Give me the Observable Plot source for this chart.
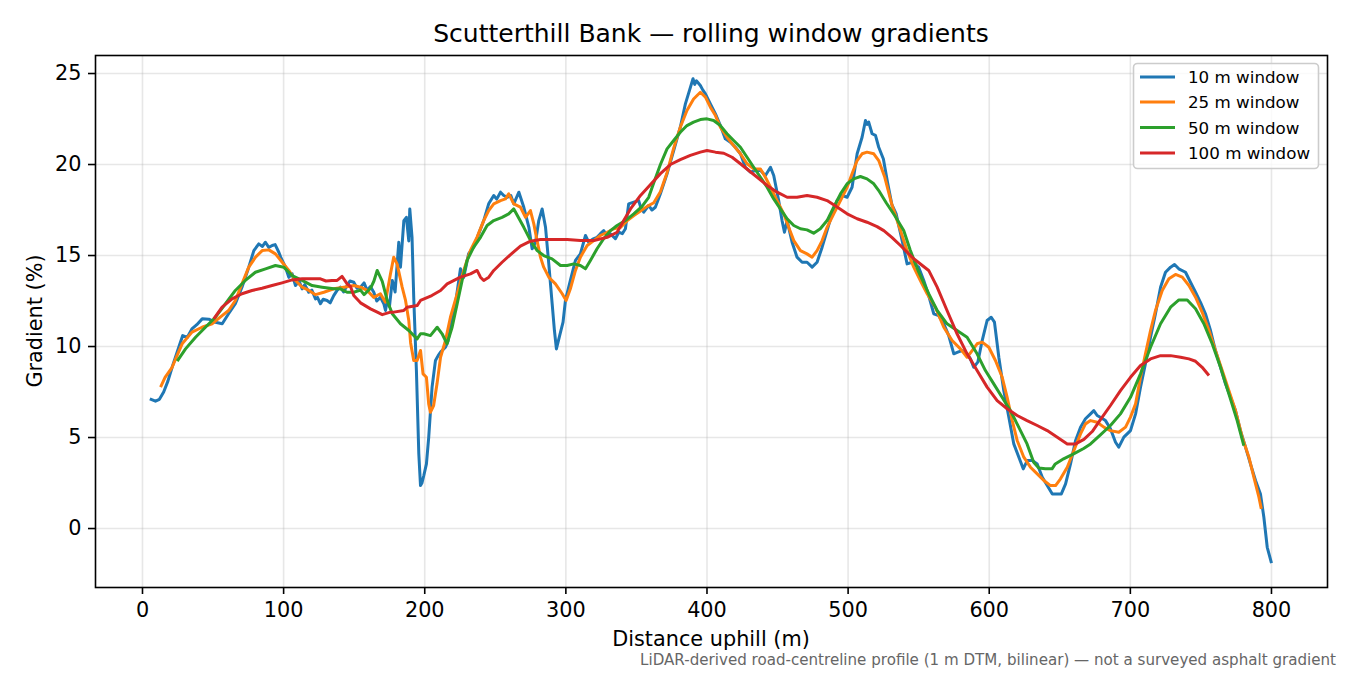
<!DOCTYPE html>
<html>
<head>
<meta charset="utf-8">
<script src="https://cdn.jsdelivr.net/npm/d3@7"></script>
<script src="https://cdn.jsdelivr.net/npm/@observablehq/plot@0.6"></script>
<style>
  html, body { margin: 0; padding: 0; background: #fff; }
  #chart svg { display: block; }
</style>
</head>
<body>
<div id="chart"></div>
<script>
// ---- data: [distance uphill (m), gradient (%)] ----
const win10 = [
  [5.2,7.13],[9.2,7.0],[12,7.1],[15,7.5],[18,8.1],[21,8.86],[25.7,9.96],[28.5,10.6],[31.7,10.5],[35,10.97],
  [38.5,11.2],[42.3,11.52],[47,11.5],[51.7,11.33],[56.5,11.25],[61,11.8],[65.8,12.35],[70.5,13.26],[75.3,14.36],
  [78.9,15.27],[82.4,15.64],[85,15.5],[87.1,15.73],[89.5,15.45],[91.9,15.55],[94,15.6],[96.6,15.18],[98,14.9],
  [101.3,14.36],[103.7,13.8],[106,14.0],[108.4,13.35],[111,13.6],[113.1,13.17],[115,13.4],[117.8,12.98],
  [120,13.1],[122.6,12.62],[124,12.7],[126.1,12.35],[128,12.6],[130.8,12.53],[133,12.4],[135.5,12.8],[138,13.1],
  [140.3,13.26],[142.5,13.0],[145,13.35],[147,13.6],[149.7,13.53],[152,13.2],[154.5,13.26],[157,13.5],
  [159.2,13.08],[161.5,13.3],[163.9,12.98],[166,12.5],[168.6,12.7],[171,12.35],[172.2,11.98],[173.4,12.53],
  [175,12.2],[177,13.63],[179,13.0],[181.6,15.73],[182.8,14.36],[185.2,16.92],[187,17.1],[188.7,15.8],
  [189.4,17.56],[191,16.0],[192.2,12.7],[194.1,8.68],[195.8,4.1],[197,2.36],[198,2.5],[199.3,2.9],[201.2,3.55],
  [202.8,5.0],[205.2,7.77],[207.6,9.23],[209.5,9.5],[211.2,9.69],[214.7,9.96],[216.5,10.3],[218.2,11.06],
  [220,11.6],[221.8,12.35],[223.5,13.3],[225.3,14.27],[227.6,13.8],[229.5,14.5],[231.1,15.1],[234.7,15.46],
  [238.2,16.19],[241.8,16.92],[245.3,17.84],[248.9,18.3],[251,18.1],[253.7,18.48],[256,18.3],[258.4,18.2],
  [261,18.3],[263.1,17.84],[266.7,18.48],[270.2,17.65],[273.8,16.55],[276.1,15.37],[278.5,15.73],[280.8,16.92],
  [283.2,17.56],[285.6,16.55],[287.9,14.54],[290.3,12.35],[291.9,10.88],[293.3,9.87],[295.6,10.6],[298,11.34],
  [299.7,12.53],[303.2,13.63],[306.8,14.73],[310.3,15.09],[313.9,16.1],[316.2,15.73],[319,15.9],[322.1,16.0],
  [324.5,16.2],[326.8,16.37],[329,16.1],[331.6,16.19],[335.1,15.92],[337.5,16.28],[340,16.2],[342.2,16.47],
  [344.5,17.84],[348.1,17.93],[351.6,18.02],[353,17.66],[355.2,17.38],[358.7,17.75],[361,17.5],[363.4,17.65],
  [367,18.39],[371.7,19.49],[376.4,20.77],[381.1,22.05],[384.7,23.33],[388.3,24.25],[390.1,24.71],[391.3,24.4],
  [392.5,24.6],[395.3,24.34],[397,24.1],[398.9,23.88],[402.4,23.33],[406,22.78],[409.5,22.14],[413,21.41],
  [416.6,21.23],[420.1,20.95],[423.7,20.59],[427.2,19.85],[430.8,19.58],[434.3,19.67],[437.9,19.67],
  [441.4,19.4],[445,19.85],[447.3,19.4],[450.8,18.02],[453.2,16.92],[454.9,16.28],[456.8,16.92],[460.3,15.73],
  [463.8,14.91],[467.4,14.63],[470.9,14.63],[474.5,14.36],[478,14.63],[481.6,15.46],[485.1,16.37],[488.6,17.29],
  [492.2,18.02],[495.7,18.3],[499.3,18.2],[502.8,18.75],[506.4,20.59],[509.9,21.5],[512.3,22.42],[513.5,22.2],
  [514.6,22.33],[517,21.69],[519.4,21.6],[521.7,20.95],[525,20.3],[528,19.0],[531,17.8],[534,17.3],
  [538.3,15.82],[541.8,14.54],[545.4,14.63],[550,14.36],[553.6,13.63],[557.1,12.8],[560.7,11.8],[564.2,11.7],
  [567.8,11.25],[571.3,10.6],[574.9,9.6],[577.7,9.69],[580.8,9.78],[584.3,9.6],[586.7,9.32],[589,8.86],
  [591.9,9.14],[595,10.33],[598.5,11.43],[601.4,11.61],[603.7,11.34],[606.8,9.41],[610.3,7.58],[613.9,6.12],
  [617.4,4.65],[621,3.92],[624.1,3.28],[627,3.74],[630.5,3.74],[634,3.55],[637.6,2.82],[641.1,2.36],
  [644.7,1.9],[648.2,1.9],[651.1,1.9],[654.1,2.45],[657.6,3.55],[661.2,4.84],[664.7,5.57],[668.2,6.03],
  [671.8,6.3],[674.1,6.48],[676.5,6.21],[679,6.1],[682.4,5.93],[685.9,5.48],[689.5,4.74],[691.8,4.47],
  [695.4,5.02],[700.1,5.38],[703.7,6.3],[707.2,7.76],[710.7,9.05],[714.3,10.51],[717.8,11.8],[721.4,13.26],
  [724.9,14.08],[728.5,14.36],[731.3,14.51],[734.3,14.27],[739.1,14.08],[742.6,13.53],[746.2,12.98],
  [749.7,12.43],[753.2,11.8],[756.8,10.88],[760.3,9.78],[763.9,8.86],[767.4,7.95],[771,7.21],[774.5,6.48],
  [778,5.38],[781.6,4.47],[785.1,3.55],[788.7,2.64],[792.2,1.9],[794.6,0.62],[797,-1.03],[800,-1.9]
];
const win25 = [
  [12.8,7.77],[16,8.3],[21,8.86],[25,9.6],[28.1,10.15],[35.1,10.79],[42.2,11.06],[49.3,11.25],[56.4,11.7],
  [61,11.98],[65.8,12.53],[70.5,13.45],[75.3,14.36],[80.1,14.91],[84.8,15.27],[89.5,15.31],[94.2,15.09],
  [99,14.63],[103.7,14.18],[108.4,13.63],[113.2,13.26],[117.9,13.08],[122.6,12.85],[128.5,12.98],[135.5,13.17],
  [142.6,13.26],[149.7,13.35],[154.5,13.26],[159.2,13.08],[163.9,12.7],[168.6,12.9],[172.1,12.43],[175.7,13.99],
  [178,14.91],[180.4,14.54],[184,13.26],[186.4,12.53],[188.7,11.43],[190,10.2],[192.2,9.23],[194.6,9.23],
  [197,9.78],[198.8,8.5],[201.2,8.31],[202.8,6.85],[204,6.39],[206.3,6.76],[208.7,7.95],[211.2,9.41],
  [214.7,10.33],[218.2,11.61],[223,12.9],[227.6,14.18],[232.3,15.27],[237,16.0],[241.8,16.92],[245.3,17.47],
  [248.9,17.84],[253.7,18.02],[257.2,18.11],[259.5,18.39],[263.1,17.84],[267.8,17.66],[271.4,17.1],[274.9,17.47],
  [277.3,16.74],[279.6,15.82],[282,14.91],[284.3,14.36],[287.9,13.81],[292.6,13.44],[297.4,12.9],[300.2,12.53],
  [303.2,13.17],[306.8,14.18],[310.3,14.91],[315.1,15.55],[319.8,15.82],[324.5,16.1],[329.3,16.28],[334,16.47],
  [338.7,16.55],[343.5,16.92],[348.2,17.2],[352.9,17.45],[357.6,17.7],[362.3,17.9],[367,18.5],[371.7,19.55],
  [376.4,20.9],[381.1,22.05],[385.8,22.97],[390.5,23.6],[395.3,23.97],[398.9,23.7],[402.4,23.15],[406,22.69],
  [409.5,22.05],[414.2,21.5],[418.9,21.04],[423.7,20.59],[428.4,20.04],[433.1,19.76],[437.9,19.76],[441.4,19.3],
  [445,18.75],[449.7,18.02],[454.4,17.29],[457.9,16.55],[461.5,15.82],[466.2,15.27],[470.9,15.09],[474.5,14.91],
  [478,15.27],[481.6,15.82],[485.1,16.55],[489.8,17.29],[494.6,18.02],[499.3,18.75],[502.8,19.49],[506.4,20.22],
  [509.9,20.59],[513.4,20.68],[518.2,20.59],[521.7,20.22],[526,19.3],[531,17.8],[537.1,16.37],[541.8,15.27],
  [546.5,14.36],[551.2,13.63],[556,12.9],[561.8,12.16],[567.8,11.06],[573.7,10.33],[579.6,9.87],[584.3,9.41],
  [587.9,9.78],[591.4,10.15],[595,10.24],[599.7,9.96],[604.4,9.23],[609.2,8.31],[612.7,7.21],[616.3,5.93],
  [619.8,4.84],[624.5,3.92],[629.2,3.37],[634,3.0],[638.7,2.64],[643.4,2.36],[647,2.36],[650.5,2.73],
  [655.3,3.37],[660,4.29],[664.7,5.2],[668.2,5.75],[671.8,5.93],[676.5,5.84],[681.2,5.57],[685.9,5.38],
  [691.8,5.29],[696.6,5.57],[700.1,6.12],[703.7,6.85],[707.2,8.31],[710.7,9.6],[714.3,10.88],[717.8,11.98],
  [722.6,13.08],[727.3,13.72],[732,13.96],[736.8,13.81],[741.5,13.35],[746.2,12.71],[750.9,11.88],[755.7,10.88],
  [760.3,9.78],[765.1,8.68],[769.8,7.58],[774.5,6.48],[779.3,5.02],[784,3.92],[787.5,2.82],[791.1,1.72],[792.8,1.08]
];
const win50 = [
  [24.6,9.2],[30.5,9.87],[37.6,10.51],[44.6,11.06],[51.7,11.61],[58.8,12.35],[65.8,13.08],[72.9,13.63],
  [80,14.08],[87.2,14.27],[94.2,14.45],[100.1,14.36],[106,13.9],[113.1,13.63],[120.2,13.35],[127.3,13.26],
  [135.5,13.17],[140.3,13.17],[145,12.98],[149.7,12.98],[154.5,13.1],[157,12.85],[161.6,13.2],[164,13.6],
  [166.3,14.18],[169.9,13.58],[173.4,12.53],[177,11.8],[182.8,11.25],[188.7,10.88],[194.6,10.42],[197,10.7],
  [199.3,10.7],[204,10.6],[208.8,11.06],[212.3,10.7],[215.8,10.15],[219.4,11.06],[223,12.35],[226.5,13.63],
  [230,14.73],[234.7,15.46],[239.5,16.0],[244.2,16.65],[248.9,16.92],[254.8,17.1],[259.5,17.29],[263.1,17.56],
  [266.7,17.05],[270.2,16.55],[275,15.82],[279.7,15.27],[284.3,15.0],[290.2,14.82],[296.2,14.45],[300.9,14.45],
  [305.6,14.54],[310.3,14.45],[313.9,14.27],[317.4,14.73],[322.1,15.37],[326.8,15.92],[331.6,16.37],
  [336.3,16.65],[342.2,16.92],[348.1,17.29],[354,17.7],[358.7,18.2],[362.3,19.0],[367,20.0],[371.7,20.86],
  [376.4,21.32],[381.1,21.77],[385.8,22.14],[390.5,22.33],[395.3,22.47],[400,22.51],[404.7,22.42],[409.5,22.14],
  [414.2,21.69],[418.9,21.32],[423.7,20.95],[428.4,20.4],[433.1,19.85],[437.9,19.3],[442.6,18.75],[447.3,18.11],
  [452,17.56],[456.8,17.01],[461.5,16.65],[466.2,16.47],[470.9,16.41],[475.6,16.23],[480.3,16.47],[485.1,16.92],
  [489.8,17.66],[494.6,18.39],[499.3,18.94],[504,19.21],[508.7,19.34],[513.4,19.21],[518.2,18.94],[521.7,18.57],
  [527,17.9],[533,17.2],[539.4,16.37],[544,15.3],[550,14.1],[557.1,12.9],[563.1,11.98],[570.1,11.25],
  [577.2,10.88],[584.3,10.51],[591.4,9.6],[597.3,8.68],[603.2,7.95],[609.1,7.21],[615,6.48],[620.9,5.57],
  [626.8,4.65],[631.5,3.64],[635.1,3.33],[639.8,3.28],[644.5,3.28],[646.8,3.55],[652.7,3.83],[659.8,4.1],
  [666.9,4.4],[671.8,4.65],[678.8,5.15],[685.9,5.66],[693,6.3],[700.1,7.21],[707.2,8.5],[714.3,9.96],
  [721.4,11.25],[728.5,12.16],[734.4,12.56],[740.3,12.56],[746.2,12.07],[752.1,11.25],[758,10.15],[763.9,8.86],
  [769.8,7.4],[775.7,5.93],[780.4,4.56]
];
const win100 = [
  [50.5,11.52],[56.4,12.16],[63.5,12.62],[70.5,12.9],[77.6,13.08],[84.7,13.2],[91.8,13.35],[98.9,13.5],
  [106,13.66],[113.1,13.72],[120.2,13.72],[126.1,13.72],[130,13.6],[134.3,13.63],[137.9,13.63],[141.4,13.85],
  [145,13.44],[147.4,13.3],[149.7,12.8],[154.5,12.4],[161.6,12.07],[166,11.9],[169.9,11.75],[175.7,11.89],
  [178.1,11.89],[185.1,11.98],[187.5,12.16],[194.6,12.25],[197,12.53],[205,12.8],[211.2,13.08],[215.9,13.44],
  [225.3,13.81],[232.4,13.99],[237.1,14.18],[239.5,13.81],[241.8,13.63],[245.4,13.81],[248.9,14.18],
  [254.8,14.63],[260.8,15.05],[267.8,15.52],[274.9,15.79],[282,15.88],[291.4,15.88],[300.9,15.88],[310.3,15.82],
  [319.8,15.82],[329.3,16.0],[336.3,16.28],[341,16.92],[345.8,17.56],[352.9,18.3],[360,18.9],[367,19.5],
  [374.1,20.0],[381.1,20.27],[388.2,20.5],[395.3,20.68],[400,20.77],[406,20.68],[411.9,20.62],[417.8,20.4],
  [423.7,20.04],[429.6,19.67],[435.6,19.3],[442.6,18.85],[449.7,18.48],[456.8,18.2],[463.8,18.2],[470.9,18.3],
  [478,18.2],[485.1,18.02],[492.2,17.66],[499.3,17.29],[506.4,17.02],[513.4,16.83],[520.5,16.59],[525.3,16.37],
  [531,16.0],[537.1,15.55],[546.5,14.82],[557.1,14.18],[563.1,13.26],[570.1,11.98],[577.2,10.7],[584.3,9.6],
  [591.4,8.68],[598.5,7.77],[605.6,7.03],[612.7,6.58],[619.8,6.21],[626.8,5.93],[634,5.66],[641.1,5.38],
  [648.2,5.02],[655.3,4.65],[661.2,4.65],[667.1,4.9],[673,5.33],[678.8,5.98],[685.9,6.76],[693,7.58],
  [700.1,8.31],[707.2,8.96],[714.3,9.32],[721.4,9.5],[728.5,9.5],[735.6,9.41],[741.5,9.32],[746.2,9.19],
  [750.9,8.86],[755.7,8.41]
];
const seriesNames = ["10 m window", "25 m window", "50 m window", "100 m window"];
const seriesColors = ["#1f77b4", "#ff7f0e", "#2ca02c", "#d62728"];
const xTicks = [0, 100, 200, 300, 400, 500, 600, 700, 800];
const yTicks = [0, 5, 10, 15, 20, 25];
const titleText = "Scutterthill Bank \u2014 rolling window gradients";
const xLabel = "Distance uphill (m)";
const yLabel = "Gradient (%)";
const captionText = "LiDAR-derived road-centreline profile (1 m DTM, bilinear) \u2014 not a surveyed asphalt gradient";

// ---- build ----
const allSeries = [win10, win25, win50, win100];
const rows = allSeries.flatMap((s, i) => s.map(([d, g]) => ({d, g, series: seriesNames[i]})));

const W = 1350, H = 675;
const mL = 95, mR = 23, mT = 55, mB = 88;
const FONT = "DejaVu Sans, Liberation Sans, sans-serif";

const plot = Plot.plot({
  width: W, height: H,
  marginLeft: mL, marginRight: mR, marginTop: mT, marginBottom: mB,
  style: {fontFamily: FONT, fontSize: "20.8px", color: "#000", background: "#fff"},
  x: {domain: [-33.3, 839.7], label: null},
  y: {domain: [-3.24, 25.99], label: null},
  color: {domain: seriesNames, range: seriesColors},
  marks: [
    Plot.gridX(xTicks, {stroke: "#b0b0b0", strokeOpacity: 0.3, strokeWidth: 1.6}),
    Plot.gridY(yTicks, {stroke: "#b0b0b0", strokeOpacity: 0.3, strokeWidth: 1.6}),
    Plot.line(rows, {x: "d", y: "g", z: "series", stroke: "series", strokeWidth: 3, strokeLinejoin: "round", strokeLinecap: "butt"}),
    Plot.axisX(xTicks, {tickSize: 7, tickPadding: 8, strokeWidth: 1.6, fontSize: 20.8, label: null}),
    Plot.axisY(yTicks, {tickSize: 7, tickPadding: 7, strokeWidth: 1.6, fontSize: 20.8, label: null}),
    Plot.frame({stroke: "#000", strokeWidth: 1.6})
  ]
});

document.getElementById("chart").appendChild(plot);

const svg = d3.select(plot);
const cx = mL + (W - mL - mR) / 2;

svg.append("text")
  .attr("x", cx).attr("y", 42)
  .attr("text-anchor", "middle")
  .style("font-family", FONT).style("font-size", "25px").attr("fill", "#000")
  .text(titleText);

svg.append("text")
  .attr("x", cx).attr("y", 646)
  .attr("text-anchor", "middle")
  .style("font-family", FONT).style("font-size", "20.8px").attr("fill", "#000")
  .text(xLabel);

svg.append("text")
  .attr("transform", `translate(42,${mT + (H - mT - mB) / 2}) rotate(-90)`)
  .attr("text-anchor", "middle")
  .style("font-family", FONT).style("font-size", "20.8px").attr("fill", "#000")
  .text(yLabel);

svg.append("text")
  .attr("x", 1336).attr("y", 665)
  .attr("text-anchor", "end")
  .style("font-family", FONT).style("font-size", "15.1px").attr("fill", "#666")
  .text(captionText);

// legend
const lg = svg.append("g");
lg.append("rect")
  .attr("x", 1133.5).attr("y", 63.5).attr("width", 185).attr("height", 105).attr("rx", 4)
  .attr("fill", "#fff").attr("fill-opacity", 0.8).attr("stroke", "#cccccc").attr("stroke-width", 1.6);
const rowY = [77, 102, 127.5, 153];
seriesNames.forEach((name, i) => {
  lg.append("line").attr("x1", 1140).attr("x2", 1175).attr("y1", rowY[i]).attr("y2", rowY[i])
    .attr("stroke", seriesColors[i]).attr("stroke-width", 3);
  lg.append("text").attr("x", 1188).attr("y", rowY[i]).attr("dy", "0.36em")
    .attr("text-anchor", "start")
    .style("font-family", FONT).style("font-size", "16.7px").attr("fill", "#000")
    .text(name);
});
</script>
</body>
</html>
